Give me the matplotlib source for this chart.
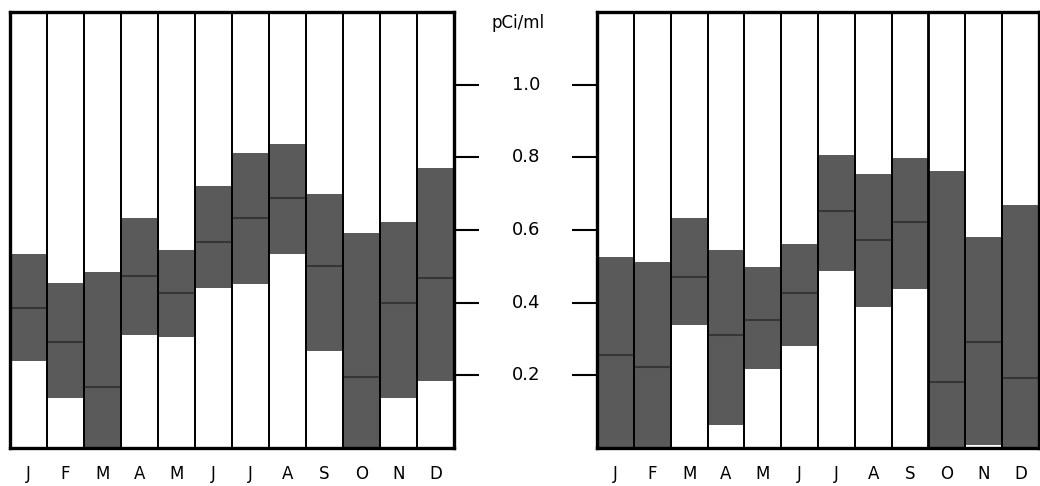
import matplotlib
matplotlib.use("Agg")
import matplotlib.pyplot as plt
import matplotlib.transforms as mtransforms

months = ['J', 'F', 'M', 'A', 'M', 'J', 'J', 'A', 'S', 'O', 'N', 'D']

left_low = [0.24, 0.137, 0.0, 0.311, 0.305, 0.44, 0.452, 0.534, 0.268, 0.0, 0.137, 0.185]
left_mean = [0.385, 0.293, 0.169, 0.473, 0.426, 0.568, 0.633, 0.687, 0.50, 0.196, 0.399, 0.467]
left_high = [0.535, 0.454, 0.485, 0.633, 0.544, 0.72, 0.813, 0.837, 0.698, 0.591, 0.621, 0.772]

right_low = [0.0, 0.0, 0.339, 0.063, 0.217, 0.281, 0.488, 0.389, 0.437, 0.0, 0.007, 0.0]
right_mean = [0.256, 0.224, 0.47, 0.311, 0.353, 0.426, 0.651, 0.573, 0.623, 0.183, 0.293, 0.192]
right_high = [0.526, 0.512, 0.633, 0.544, 0.497, 0.561, 0.807, 0.755, 0.797, 0.763, 0.58, 0.669]

yticks = [0.2, 0.4, 0.6, 0.8, 1.0]
ytick_labels = ['0.2', '0.4', '0.6', '0.8', '1.0']
unit_label = 'pCi/ml'
ymax = 1.2

GRAY = '#5a5a5a'
MEAN = '#363636'

fig = plt.figure(figsize=(10.4, 4.86), dpi=100)
axL = fig.add_axes([10 / 1040, 1 - 448 / 486, 444 / 1040, 436 / 486])
axR = fig.add_axes([597 / 1040, 1 - 448 / 486, 442 / 1040, 436 / 486])


def draw_panel(ax, low, mean, high):
    x = list(range(len(months)))
    heights = [h - l for h, l in zip(high, low)]
    ax.bar(x, heights, bottom=low, width=1.0, color=GRAY, edgecolor='none', zorder=1)
    for i, m in enumerate(mean):
        ax.hlines(m, i - 0.5, i + 0.5, color=MEAN, lw=1.5, zorder=2)
    ax.bar(x, [ymax] * len(x), width=1.0, fill=False, edgecolor='black', lw=1.3, zorder=3)
    ax.set_xlim(-0.5, len(x) - 0.5)
    ax.set_ylim(0, ymax)
    ax.set_xticks(x)
    ax.set_xticklabels(months, fontsize=12)
    ax.tick_params(axis='x', length=0, pad=12)
    for s in ax.spines.values():
        s.set_linewidth(2.4)
        s.set_zorder(4)


draw_panel(axL, left_low, left_mean, left_high)
draw_panel(axR, right_low, right_mean, right_high)

axL.yaxis.tick_right()
axL.set_yticks(yticks)
axL.set_yticklabels([])
axL.tick_params(axis='y', direction='out', length=18, width=1.5)

axR.yaxis.tick_left()
axR.set_yticks(yticks)
axR.set_yticklabels([])
axR.tick_params(axis='y', direction='out', length=18, width=1.5)

trans = mtransforms.blended_transform_factory(fig.transFigure, axL.transData)
for v, lab in zip(yticks, ytick_labels):
    fig.text(526 / 1040, v, lab, transform=trans, ha='center', va='center', fontsize=13)

fig.text(518 / 1040, 1 - 23 / 486, unit_label, ha='center', va='center', fontsize=12)

fig.savefig('out.png', dpi=100)
